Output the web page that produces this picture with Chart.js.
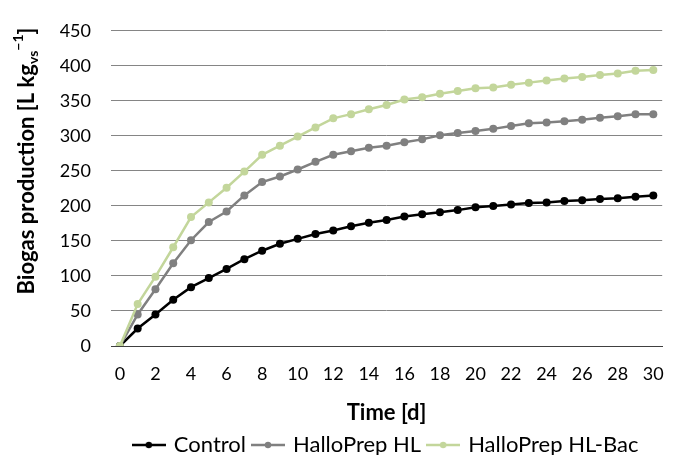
<!DOCTYPE html>
<html lang="en">
<head>
  <meta charset="UTF-8" />
  <title>Biogas production</title>
  <script src="https://cdn.jsdelivr.net/npm/chart.js"></script>
  <style>
    body { margin: 0; background: #fff; }
    #wrap { width: 681px; height: 455px; }
  </style>
</head>
<body>
  <div id="wrap"><canvas id="grafico" width="681" height="455"></canvas></div>

  <script>
    // dados
    const days = [0, 1, 2, 3, 4, 5, 6, 7, 8, 9, 10, 11, 12, 13, 14, 15, 16, 17, 18, 19, 20, 21, 22, 23, 24, 25, 26, 27, 28, 29, 30];
    const control = [0, 25, 45, 66, 84, 97, 110, 124, 136, 146, 153, 160, 165, 171, 176, 180, 185, 188, 191, 194, 198, 200, 202, 204, 205, 207, 208, 210, 211, 213, 215];
    const halloHL = [0, 45, 81, 118, 151, 177, 192, 215, 234, 242, 252, 263, 273, 278, 283, 286, 291, 295, 301, 304, 307, 310, 314, 318, 319, 321, 323, 326, 328, 331, 331];
    const halloBac = [0, 60, 99, 141, 184, 205, 226, 249, 273, 286, 299, 312, 325, 331, 338, 344, 352, 355, 360, 364, 368, 369, 373, 376, 379, 382, 384, 387, 389, 393, 394];
    const seriesNames = ['Control', 'HalloPrep HL', 'HalloPrep HL-Bac'];
    const seriesColors = ['#000000', '#808080', '#c3d69b'];

    Chart.defaults.font.family = 'Lato';
    Chart.defaults.color = '#000';

    // simbolo da legenda: linha com ponto
    function legendIcon(color) {
      const c = document.createElement('canvas');
      c.width = 34; c.height = 10;
      const g = c.getContext('2d');
      g.strokeStyle = color;
      g.lineWidth = 2.5;
      g.beginPath(); g.moveTo(0, 5); g.lineTo(34, 5); g.stroke();
      g.fillStyle = color;
      g.beginPath(); g.arc(17, 5, 3.2, 0, Math.PI * 2); g.fill();
      return c;
    }

    // titulo do eixo y com subscrito e sobrescrito
    const yTitle = {
      id: 'yTitle',
      afterDraw(chart) {
        const ctx = chart.ctx;
        const parts = [
          { t: 'Biogas production [L kg', size: 22, dy: 0 },
          { t: 'vs', size: 14, dy: 6 },
          { t: '\u22121', size: 14, dy: -9 },
          { t: ']', size: 22, dy: 0 }
        ];
        ctx.save();
        let total = 0;
        parts.forEach(p => {
          ctx.font = 'bold ' + p.size + 'px Lato';
          p.w = ctx.measureText(p.t).width;
          total += p.w;
        });
        ctx.translate(27, 161);
        ctx.rotate(-Math.PI / 2);
        ctx.fillStyle = '#000';
        ctx.textBaseline = 'middle';
        let x = -total / 2;
        parts.forEach(p => {
          ctx.font = 'bold ' + p.size + 'px Lato';
          ctx.fillText(p.t, x, p.dy);
          x += p.w;
        });
        ctx.restore();
      }
    };

    const ctx = document.getElementById('grafico').getContext('2d');
    new Chart(ctx, {
      type: 'line',
      data: {
        labels: days,
        datasets: [
          { label: seriesNames[0], data: control, borderColor: seriesColors[0], backgroundColor: seriesColors[0], order: 2 },
          { label: seriesNames[1], data: halloHL, borderColor: seriesColors[1], backgroundColor: seriesColors[1], order: 1 },
          { label: seriesNames[2], data: halloBac, borderColor: seriesColors[2], backgroundColor: seriesColors[2], order: 0 }
        ]
      },
      options: {
        responsive: false,
        animation: false,
        devicePixelRatio: 1,
        layout: { padding: { left: 0, right: 16, top: 20, bottom: -11 } },
        elements: {
          line: { borderWidth: 2.5, tension: 0 },
          point: { radius: 4, borderWidth: 0, hoverRadius: 4 }
        },
        plugins: {
          tooltip: { enabled: false },
          legend: {
            position: 'bottom',
            fullSize: false,
            labels: {
              usePointStyle: true,
              pointStyleWidth: 28,
              padding: 8,
              color: '#000',
              font: { size: 22 },
              generateLabels(chart) {
                return chart.data.datasets.map((ds, i) => ({
                  text: ds.label,
                  pointStyle: legendIcon(ds.borderColor),
                  fontColor: '#000',
                  hidden: false,
                  datasetIndex: i,
                  lineWidth: 0
                }));
              }
            }
          }
        },
        scales: {
          x: {
            type: 'category',
            offset: true,
            grid: { display: false, drawTicks: false, tickLength: 0 },
            border: { display: true, color: '#404040', width: 1 },
            ticks: {
              autoSkip: false,
              maxRotation: 0,
              padding: 17,
              font: { size: 18 },
              callback: (v, i) => (i % 2 === 0 ? days[i] : '')
            },
            title: {
              display: true,
              text: 'Time [d]',
              font: { size: 22, weight: 'bold' },
              padding: { top: -2, bottom: 0 }
            }
          },
          y: {
            min: 0,
            max: 450,
            afterFit(scale) { scale.width = 111; },
            grid: { color: '#858585', drawTicks: false, tickLength: 0 },
            border: { display: false },
            ticks: {
              stepSize: 50,
              padding: 20,
              font: { size: 18 }
            }
          }
        }
      },
      plugins: [yTitle]
    });
  </script>
</body>
</html>
